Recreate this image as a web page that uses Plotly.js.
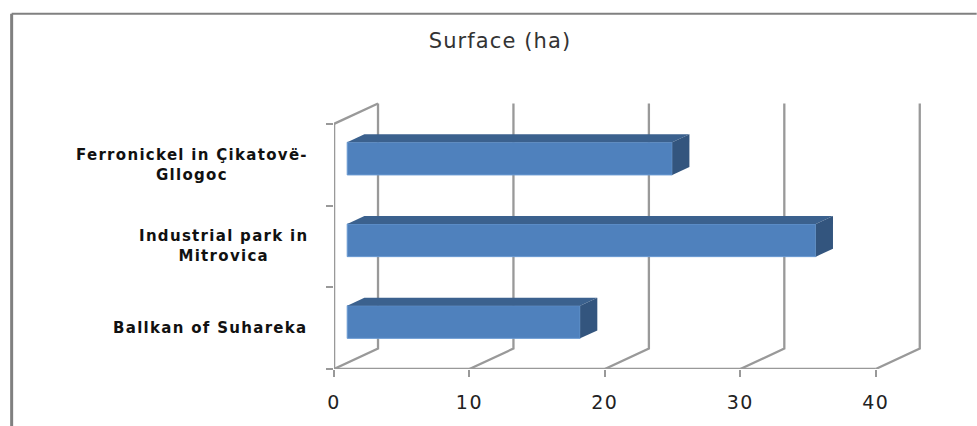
<!DOCTYPE html>
<html>
<head>
<meta charset="utf-8">
<script src="https://cdn.plot.ly/plotly-3.0.1.min.js"></script>
<style>
html,body{margin:0;padding:0;background:#fff;overflow:hidden}
.gtitle{letter-spacing:1.1px}
.annotation-text{letter-spacing:1.3px}
.xtick text{letter-spacing:1.5px}
</style>
</head>
<body>
<div id="chart" style="width:977px;height:426px"></div>
<script>
const chartTitle = "Surface (ha)";
const categories = ["Ballkan of Suhareka", "Industrial park in<br>Mitrovica", "Ferronickel in Çikatovë-<br>Gllogoc"];
const surfaces = [17.2, 34.6, 24];
const xTickValues = [0, 10, 20, 30, 40];

// pseudo-3D projection, in axis units
const depthX = 3.25, depthY = 0.25;
const barFront = 0.3, barBack = 0.69, barThick = 0.4;
const wallColor = "#999999";
const yTop = categories.length;
const catPos = categories.map((c, i) => i + 0.5);

function line(xs, ys) {
  return {type: "scatter", mode: "lines", x: xs, y: ys, xaxis: "x", yaxis: "y",
    line: {color: wallColor, width: 2.3}, hoverinfo: "skip", showlegend: false};
}
function poly(xs, ys, color) {
  return {type: "scatter", mode: "lines", fill: "toself", fillcolor: color,
    x: xs.concat(xs[0]), y: ys.concat(ys[0]), xaxis: "x2", yaxis: "y2",
    line: {width: 0, color: color}, hoverinfo: "skip", showlegend: false};
}

const traces = [];
// floor & walls
traces.push(line([0, 0, depthX, depthX], [yTop, 0, depthY, yTop + depthY]));
traces.push(line([0, 0], [0, yTop]));
traces.push(line([0, xTickValues[xTickValues.length - 1]], [0, 0]));
traces.push(line([0, depthX], [yTop, yTop + depthY]));
xTickValues.slice(1).forEach(v => {
  traces.push(line([v, v + depthX, v + depthX], [0, depthY, yTop + depthY]));
});

// bars
const fx = depthX * barFront, fy = depthY * barFront;
const bx = depthX * barBack, by = depthY * barBack;
traces.push({type: "bar", orientation: "h", x: surfaces, base: surfaces.map(() => fx),
  y: catPos.map(p => p + fy), width: barThick, xaxis: "x2", yaxis: "y2",
  marker: {color: "#4f81bd", line: {color: "#6a9ad2", width: 1}}, hoverinfo: "x+y", showlegend: false});
surfaces.forEach((v, i) => {
  const top = catPos[i] + barThick / 2, bot = catPos[i] - barThick / 2;
  traces.push(poly([fx, fx + v, bx + v, bx], [top + fy, top + fy, top + by, top + by], "#3b618e"));
  traces.push(poly([fx + v, bx + v, bx + v, fx + v], [top + fy, top + by, bot + by, bot + fy], "#33557e"));
});

const xRange = [0, 46], yRange = [0, 3.5];
const layout = {
  width: 977, height: 426,
  margin: {l: 334, r: 19.7, t: 82.5, b: 56.5},
  paper_bgcolor: "#fff", plot_bgcolor: "rgba(0,0,0,0)",
  showlegend: false, barmode: "overlay",
  title: {text: chartTitle, x: 500 / 977, xanchor: "center", y: 0.905, yanchor: "middle",
    font: {family: "DejaVu Sans", size: 21, color: "#333"}},
  xaxis: {range: xRange, tickmode: "array", tickvals: xTickValues, ticks: "outside", ticklen: 7,
    tickwidth: 2, tickcolor: wallColor, showgrid: false, zeroline: false, showline: false,
    ticklabelstandoff: 9,
    tickfont: {family: "DejaVu Sans", size: 19, color: "#222"}},
  yaxis: {range: yRange, tickmode: "array", tickvals: [0, 1, 2, 3], ticktext: ["", "", "", ""],
    ticks: "outside", ticklen: 7, tickwidth: 2, tickcolor: wallColor,
    showgrid: false, zeroline: false, showline: false},
  xaxis2: {range: xRange, overlaying: "x", anchor: "y2", visible: false},
  yaxis2: {range: yRange, overlaying: "y", anchor: "x2", visible: false},
  annotations: categories.map((c, i) => ({
    text: "<b>" + c + "</b>", x: 0, y: catPos[i], xref: "x", yref: "y",
    xanchor: "right", yanchor: "middle", xshift: -24, align: "center", showarrow: false,
    font: {family: "DejaVu Sans", size: 15, color: "#111"}
  })),
  shapes: [
    {type: "line", xref: "paper", yref: "paper", x0: -322.5 / 623.3, x1: 643 / 623.3, y0: 1.242, y1: 1.242, line: {color: "#808080", width: 2}},
    {type: "line", xref: "paper", yref: "paper", x0: -322.5 / 623.3, x1: -322.5 / 623.3, y0: 1.242, y1: -0.2, line: {color: "#808080", width: 3}}
  ]
};
Plotly.newPlot("chart", traces, layout, {displayModeBar: false, staticPlot: true});
</script>
</body>
</html>
